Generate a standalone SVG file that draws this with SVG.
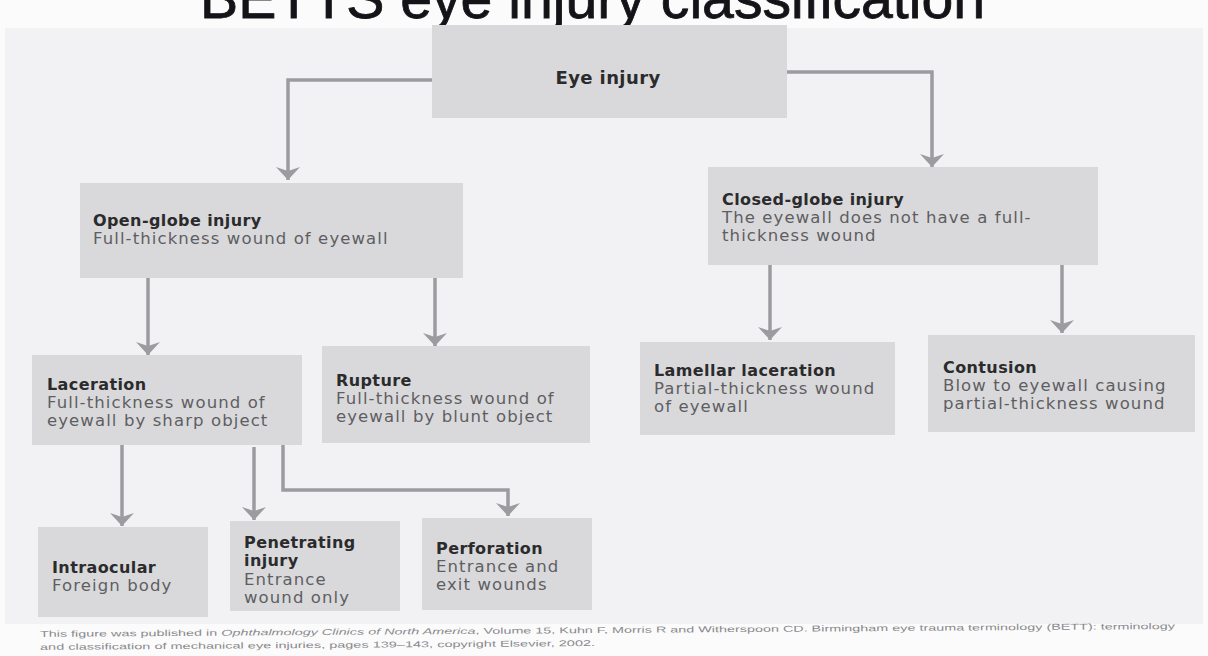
<svg xmlns="http://www.w3.org/2000/svg" width="1208" height="656" viewBox="0 0 1208 656">
<style>
.box{fill:#d9d9db}
.t{font-family:"DejaVu Sans","Liberation Sans",sans-serif;font-size:16px;font-weight:bold;fill:#2b2b2d;letter-spacing:0.4px}
.d{font-family:"DejaVu Sans","Liberation Sans",sans-serif;font-size:16.5px;fill:#5e5e62;letter-spacing:1.1px}
.conn{fill:none;stroke:#9c9ca0;stroke-width:3.5;marker-end:url(#ah)}
.foot{font-family:"Liberation Sans",sans-serif;font-size:8.5px;fill:#8a8a8e}
</style>
<defs>
<marker id="ah" markerUnits="userSpaceOnUse" viewBox="-13 -13 14 26" refX="0" refY="0" markerWidth="14" markerHeight="26" orient="auto">
<path d="M-13,-12 L0,0 L-13,12 L-9,0 Z" fill="#9c9ca0"/>
</marker>
</defs>
<rect width="1208" height="656" fill="#fbfbfc"/>
<rect x="5" y="28" width="1198" height="596" fill="#f2f2f4"/>
<text x="200" y="18" font-family="Liberation Sans, sans-serif" font-size="57" fill="#141418" stroke="#141418" stroke-width="0.8" textLength="785" lengthAdjust="spacingAndGlyphs">BETTS eye injury classification</text>

<g id="connectors">
<path class="conn" d="M432,80 H288 V180"/>
<path class="conn" d="M787,72 H932 V167"/>
<path class="conn" d="M148,278 V355"/>
<path class="conn" d="M435,276 V346"/>
<path class="conn" d="M770,265 V340"/>
<path class="conn" d="M1062,265 V333"/>
<path class="conn" d="M122,445 V526"/>
<path class="conn" d="M254,447 V520"/>
<path class="conn" d="M283,445 V490 H508 V516"/>
</g>

<g id="eye-injury">
<rect class="box" x="432" y="25" width="355" height="93"/>
<text class="t" x="608" y="84" text-anchor="middle" style="font-size:18px">Eye injury</text>
</g>

<g id="open-globe">
<rect class="box" x="80" y="183" width="383" height="95"/>
<text class="t" x="93" y="226">Open-globe injury</text>
<text class="d" x="93" y="244">Full-thickness wound of eyewall</text>
</g>

<g id="closed-globe">
<rect class="box" x="708" y="167" width="390" height="98"/>
<text class="t" x="722" y="205">Closed-globe injury</text>
<text class="d" x="722" y="223">The eyewall does not have a full-</text>
<text class="d" x="722" y="241">thickness wound</text>
</g>

<g id="laceration">
<rect class="box" x="32" y="355" width="270" height="90"/>
<text class="t" x="47" y="390">Laceration</text>
<text class="d" x="47" y="408">Full-thickness wound of</text>
<text class="d" x="47" y="426">eyewall by sharp object</text>
</g>

<g id="rupture">
<rect class="box" x="322" y="346" width="268" height="97"/>
<text class="t" x="336" y="386">Rupture</text>
<text class="d" x="336" y="404">Full-thickness wound of</text>
<text class="d" x="336" y="422">eyewall by blunt object</text>
</g>

<g id="lamellar-laceration">
<rect class="box" x="640" y="342" width="255" height="93"/>
<text class="t" x="654" y="376">Lamellar laceration</text>
<text class="d" x="654" y="394">Partial-thickness wound</text>
<text class="d" x="654" y="412">of eyewall</text>
</g>

<g id="contusion">
<rect class="box" x="928" y="335" width="267" height="97"/>
<text class="t" x="943" y="373">Contusion</text>
<text class="d" x="943" y="391">Blow to eyewall causing</text>
<text class="d" x="943" y="409">partial-thickness wound</text>
</g>

<g id="intraocular">
<rect class="box" x="38" y="527" width="170" height="90"/>
<text class="t" x="52" y="573">Intraocular</text>
<text class="d" x="52" y="591">Foreign body</text>
</g>

<g id="penetrating">
<rect class="box" x="230" y="521" width="170" height="90"/>
<text class="t" x="244" y="548">Penetrating</text>
<text class="t" x="244" y="566">injury</text>
<text class="d" x="244" y="585">Entrance</text>
<text class="d" x="244" y="603">wound only</text>
</g>

<g id="perforation">
<rect class="box" x="422" y="518" width="170" height="92"/>
<text class="t" x="436" y="554">Perforation</text>
<text class="d" x="436" y="572">Entrance and</text>
<text class="d" x="436" y="590">exit wounds</text>
</g>

<g id="footer" transform="rotate(-0.4 600 640)">
<text class="foot" x="40" y="633" textLength="1135" lengthAdjust="spacingAndGlyphs">This figure was published in <tspan font-style="italic">Ophthalmology Clinics of North America</tspan>, Volume 15, Kuhn F, Morris R and Witherspoon CD. Birmingham eye trauma terminology (BETT): terminology</text>
<text class="foot" x="40" y="646" textLength="555" lengthAdjust="spacingAndGlyphs">and classification of mechanical eye injuries, pages 139–143, copyright Elsevier, 2002.</text>
</g>
</svg>
